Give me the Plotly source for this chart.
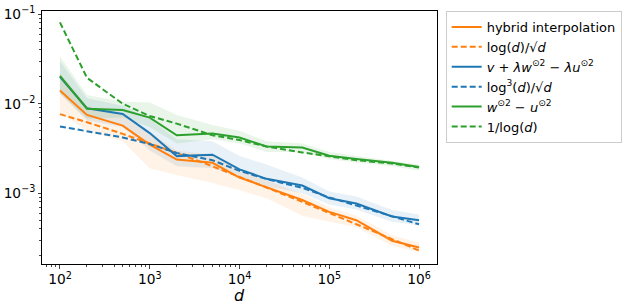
import plotly.graph_objects as go

d = [100, 200, 500, 1000, 2000, 5000, 10000, 20000, 50000, 100000, 200000, 500000, 1000000]

orange_solid = [0.0141, 0.0075, 0.0057, 0.0035, 0.00238, 0.00219, 0.00150, 0.00117, 0.00084, 0.00062, 0.00050, 0.000295, 0.000248]
orange_dash = [0.00765, 0.00622, 0.00461, 0.00363, 0.00282, 0.00200, 0.00153, 0.00116, 0.000803, 0.000604, 0.000453, 0.000308, 0.000229]
orange_up = [0.022, 0.0095, 0.0075, 0.0048, 0.0030, 0.0027, 0.0018, 0.0014, 0.00098, 0.00070, 0.00056, 0.00034, 0.00028]
orange_lo = [0.008, 0.0050, 0.0038, 0.0019, 0.0016, 0.0013, 0.00108, 0.00088, 0.00056, 0.00048, 0.00042, 0.00026, 0.00022]

blue_solid = [0.0200, 0.0089, 0.0077, 0.0047, 0.0026, 0.0027, 0.00185, 0.00145, 0.00122, 0.00088, 0.00077, 0.00055, 0.00050]
blue_dash = [0.00557, 0.00496, 0.0042, 0.00355, 0.00282, 0.00234, 0.00178, 0.00144, 0.00115, 0.00090, 0.00073, 0.00056, 0.00045]
blue_up = [0.030, 0.0115, 0.0095, 0.0068, 0.0040, 0.0038, 0.0026, 0.0021, 0.0015, 0.00105, 0.00092, 0.00065, 0.00058]
blue_lo = [0.013, 0.0065, 0.0055, 0.0030, 0.0020, 0.0019, 0.0015, 0.0012, 0.0010, 0.00075, 0.00066, 0.00048, 0.00044]

green_solid = [0.0205, 0.0088, 0.0085, 0.0070, 0.00445, 0.00464, 0.0042, 0.00333, 0.00324, 0.00263, 0.00242, 0.00219, 0.00196]
green_dash = [0.081, 0.0195, 0.0100, 0.0073, 0.0060, 0.00445, 0.00393, 0.00333, 0.00286, 0.00259, 0.00234, 0.00215, 0.00194]
green_up = [0.034, 0.0125, 0.0105, 0.0103, 0.0075, 0.0058, 0.0050, 0.0038, 0.0036, 0.0029, 0.0026, 0.0023, 0.0021]
green_lo = [0.013, 0.0068, 0.0070, 0.0055, 0.0036, 0.0040, 0.0036, 0.0029, 0.0029, 0.0024, 0.0022, 0.0020, 0.0018]

names = ["hybrid interpolation",
         "log(<i>d</i>)/√<i>d</i>",
         "<i>v</i> + <i>λw</i><sup>⊙2</sup> − <i>λu</i><sup>⊙2</sup>",
         "log<sup>3</sup>(<i>d</i>)/√<i>d</i>",
         "<i>w</i><sup>⊙2</sup> − <i>u</i><sup>⊙2</sup>",
         "1/log(<i>d</i>)"]

series = [
    ("#ff7f0e", "rgba(255,127,14,0.10)", orange_solid, orange_dash, orange_up, orange_lo, names[0], names[1]),
    ("#1f77b4", "rgba(31,119,180,0.10)", blue_solid, blue_dash, blue_up, blue_lo, names[2], names[3]),
    ("#2ca02c", "rgba(44,160,44,0.10)", green_solid, green_dash, green_up, green_lo, names[4], names[5]),
]

fig = go.Figure()
for col, fcol, s, dsh, up, lo, n1, n2 in series:
    fig.add_trace(go.Scatter(x=d, y=up, mode="lines", line=dict(width=0), showlegend=False, hoverinfo="skip"))
    fig.add_trace(go.Scatter(x=d, y=lo, mode="lines", line=dict(width=0), fill="tonexty",
                             fillcolor=fcol, showlegend=False, hoverinfo="skip"))
for col, fcol, s, dsh, up, lo, n1, n2 in series:
    fig.add_trace(go.Scatter(x=d, y=s, mode="lines", name=n1, line=dict(color=col, width=2)))
    fig.add_trace(go.Scatter(x=d, y=dsh, mode="lines", name=n2,
                             line=dict(color=col, width=2, dash="6px,3px")))

fig.update_layout(
    width=640, height=305,
    margin=dict(l=36, r=203, t=4, b=41),
    paper_bgcolor="white", plot_bgcolor="white",
    font=dict(family="DejaVu Sans", size=12, color="black"),
    legend=dict(x=1.022, y=1.0, xanchor="left", yanchor="top", traceorder="normal",
                bordercolor="#cccccc", borderwidth=1, bgcolor="white",
                font=dict(size=13), itemwidth=30),
    xaxis=dict(type="log", range=[1.8, 6.2], dtick=1, exponentformat="power",
               showline=True, linecolor="black", linewidth=1, mirror=True,
               ticks="outside", ticklen=3.5, tickwidth=0.8, showgrid=False, zeroline=False,
               tickfont=dict(size=11), ticklabeloverflow="allow",
               minor=dict(ticks="outside", ticklen=2, tickwidth=0.6, showgrid=False)),
    yaxis=dict(type="log", range=[-3.79, -0.964], dtick=1, exponentformat="power",
               showline=True, linecolor="black", linewidth=1, mirror=True,
               ticks="outside", ticklen=3.5, tickwidth=0.8, showgrid=False, zeroline=False,
               tickfont=dict(size=11), ticklabeloverflow="allow",
               minor=dict(ticks="outside", ticklen=2, tickwidth=0.6, showgrid=False)),
    annotations=[dict(text="<i>d</i>", xref="paper", yref="paper", x=0.5, y=-0.125,
                      xanchor="center", yanchor="middle", showarrow=False,
                      font=dict(size=16))],
)

fig.write_html("out.html", config={"displayModeBar": False},
               post_script="document.body.style.margin='0';document.body.style.overflow='hidden';")
